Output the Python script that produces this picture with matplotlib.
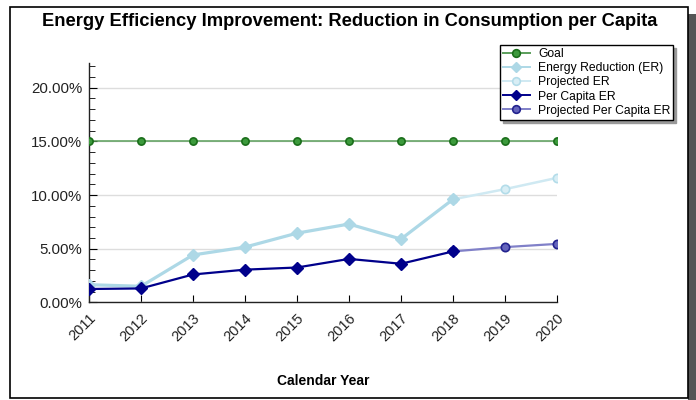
import matplotlib
matplotlib.use("Agg")
import matplotlib.pyplot as plt
from matplotlib.patches import Rectangle
from matplotlib.ticker import FuncFormatter, MultipleLocator

years = [2011, 2012, 2013, 2014, 2015, 2016, 2017, 2018, 2019, 2020]
goal = [15.0] * 10
er_years = [2011, 2012, 2013, 2014, 2015, 2016, 2017, 2018]
er = [1.65, 1.5, 4.42, 5.15, 6.45, 7.3, 5.9, 9.6]
proj_er_years = [2018, 2019, 2020]
proj_er = [9.6, 10.55, 11.6]
pc_years = [2011, 2012, 2013, 2014, 2015, 2016, 2017, 2018]
pc = [1.25, 1.3, 2.6, 3.05, 3.25, 4.05, 3.6, 4.75]
proj_pc_years = [2018, 2019, 2020]
proj_pc = [4.75, 5.15, 5.45]

plt.rcParams['font.family'] = ['Liberation Sans', 'DejaVu Sans']

fig = plt.figure(figsize=(6.96, 4.0), dpi=100)

# outer frame with shadow
fig.patches.append(Rectangle((688, 0), 8, 386, transform=None,
                             facecolor='#555555', edgecolor='none', zorder=0))
fig.patches.append(Rectangle((9.5, 2.5), 678, 391, transform=None,
                             facecolor='white', edgecolor='black', linewidth=1.2, zorder=1))

ax = fig.add_axes([89 / 696, 1 - 302.4 / 400, (557 - 89) / 696, (302.4 - 63) / 400])
ax.set_zorder(2)
ax.patch.set_alpha(0)

ax.plot(years, goal, color='#5a9e5a', lw=1.1, marker='o', ms=5.2,
        mfc='#3c9a3c', mec='#1a6e1a', mew=1.2, label='Goal', zorder=5)
ax.plot(er_years, er, color='#add8e6', lw=2.3, marker='D', ms=6,
        mfc='#add8e6', mec='#add8e6', label='Energy Reduction (ER)', zorder=4)
ax.plot(proj_er_years, proj_er, color='#cfe9f2', lw=1.8, marker='o', ms=6,
        mfc='#d8eef5', mec='#b3dce9', mew=1.2, label='Projected ER', zorder=3)
ax.plot(pc_years, pc, color='#00008b', lw=1.6, marker='D', ms=6,
        mfc='#00008b', mec='#00008b', label='Per Capita ER', zorder=6)
ax.plot(proj_pc_years, proj_pc, color='#8080c8', lw=1.6, marker='o', ms=6,
        mfc='#6464bc', mec='#22228e', mew=1.2, label='Projected Per Capita ER', zorder=5)

ax.set_xlim(2011, 2020)
ax.set_ylim(0, 22.3)
ax.set_xticks(years)
ax.set_xticklabels([str(y) for y in years], rotation=45, ha='right', va='top',
                   rotation_mode='anchor', fontsize=10.5, color='#222222')
ax.yaxis.set_major_locator(MultipleLocator(5))
ax.yaxis.set_minor_locator(MultipleLocator(1))
ax.yaxis.set_major_formatter(FuncFormatter(lambda v, p: f"{v:.2f}%"))
ax.tick_params(axis='y', which='major', direction='in', length=6, labelsize=10.8,
               labelcolor='#222222', pad=5)
ax.tick_params(axis='y', which='minor', direction='in', length=4)
ax.tick_params(axis='x', direction='in', length=5, pad=6)

for s in ['top', 'right']:
    ax.spines[s].set_visible(False)
for s in ['left', 'bottom']:
    ax.spines[s].set_linewidth(1.0)
    ax.spines[s].set_color('#222222')

ax.yaxis.grid(True, color='#dddddd', lw=1.0)
ax.set_axisbelow(True)

ax.set_xlabel('Calendar Year', fontsize=10, fontweight='bold', labelpad=22)

fig.text(350 / 696, 1 - 22 / 400, 'Energy Efficiency Improvement: Reduction in Consumption per Capita',
         ha='center', va='center', fontsize=13.2, fontweight='bold', zorder=3)

leg = ax.legend(loc='upper left', bbox_to_anchor=((500 - 89) / 468, (302.4 - 45) / 239.4),
                fontsize=8.7, frameon=True, fancybox=False, shadow={'color': '#999999', 'alpha': 1},
                borderpad=0.25, labelspacing=0.18, handlelength=2.2, handletextpad=0.7,
                borderaxespad=0)
leg.get_frame().set_edgecolor('black')
leg.get_frame().set_linewidth(1.0)
for h in leg.legend_handles:
    h.set_markersize(5.5)
    h.set_linewidth(1.4)

fig.savefig('out.png', dpi=100)
